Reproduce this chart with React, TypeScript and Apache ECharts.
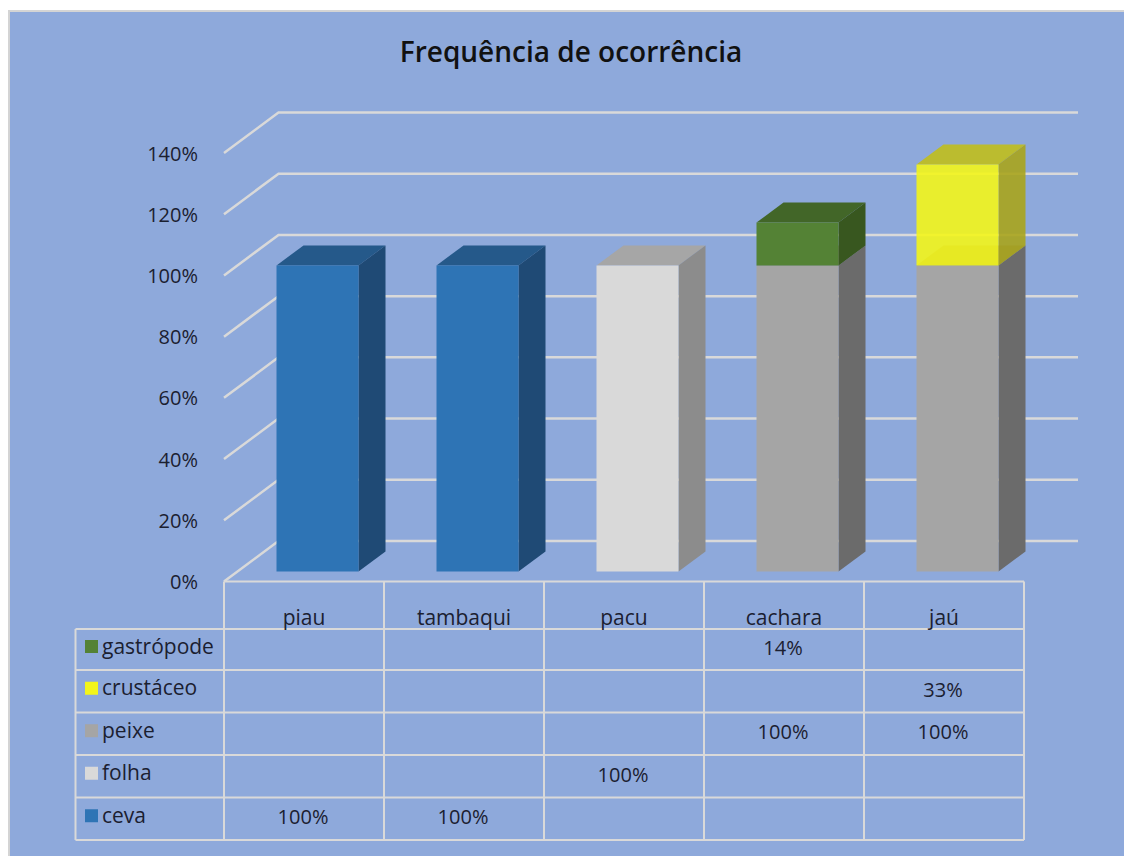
import React, { useEffect, useRef } from "react";
import * as echarts from "echarts";

const titleText = "Frequência de ocorrência";
const categories = ["piau", "tambaqui", "pacu", "cachara", "jaú"];
const ceva = [100, 100, null, null, null];
const folha = [null, null, 100, null, null];
const peixe = [null, null, null, 100, 100];
const crustaceo = [null, null, null, null, 33];
const gastropode = [null, null, null, 14, null];
const yTicks = [0, 20, 40, 60, 80, 100, 120, 140];

const stackOrder = [
  { name: "ceva", values: ceva, front: "#2E74B5", side: "#1F4A75", top: "#25598A", opacity: 1 },
  { name: "folha", values: folha, front: "#D9D9D9", side: "#8C8C8C", top: "#A6A6A6", opacity: 1 },
  { name: "peixe", values: peixe, front: "#A5A5A5", side: "#6B6B6B", top: "#7E7E7E", opacity: 1 },
  { name: "crustáceo", values: crustaceo, front: "#F3F51A", side: "#A8A41C", top: "#C0BE1C", opacity: 0.9 },
  { name: "gastrópode", values: gastropode, front: "#548235", side: "#38571F", top: "#426628", opacity: 1 },
];
const tableRows = [...stackOrder].reverse();

const FONT = "'Open Sans', sans-serif";
const TEXT = "#1B2030";
const LINE = "#D9D9D9";
const GRID = { left: 224, top: 153, width: 800, height: 428.5 };
const ROW_Y = [629, 670, 712.5, 755, 797.5, 840];
const TABLE_LEFT = 75.5;
const COL_W = GRID.width / categories.length;
const BAR_HALF = 41;
const BAR_DX = 13.5;
const BAR_DY = -10;
const DEPTH_X = 27;
const DEPTH_Y = -20;

const bottoms = categories.map(() => 0);
const seriesData = stackOrder.map((s) =>
  s.values.flatMap((v, i) => {
    if (v == null) return [];
    const item = [i, bottoms[i], bottoms[i] + v];
    bottoms[i] += v;
    return [item];
  })
);

const pct = (v: number) => `${v}%`;

function barSeries(s: (typeof stackOrder)[number], data: number[][], z: number) {
  return {
    type: "custom",
    name: s.name,
    coordinateSystem: "cartesian2d",
    clip: false,
    silent: true,
    z,
    data,
    renderItem: (_p: any, api: any) => {
      const p0 = api.coord([api.value(0), api.value(1)]);
      const p1 = api.coord([api.value(0), api.value(2)]);
      const xl = p0[0] + BAR_DX - BAR_HALF;
      const xr = p0[0] + BAR_DX + BAR_HALF;
      const yb = p0[1] + BAR_DY;
      const yt = p1[1] + BAR_DY;
      const o = s.opacity;
      return {
        type: "group",
        children: [
          {
            type: "polygon",
            shape: { points: [[xl, yt], [xr, yt], [xr + DEPTH_X, yt + DEPTH_Y], [xl + DEPTH_X, yt + DEPTH_Y]] },
            style: { fill: s.top, opacity: o },
          },
          {
            type: "polygon",
            shape: { points: [[xr, yt], [xr + DEPTH_X, yt + DEPTH_Y], [xr + DEPTH_X, yb + DEPTH_Y], [xr, yb]] },
            style: { fill: s.side, opacity: o },
          },
          {
            type: "rect",
            shape: { x: xl, y: yt, width: xr - xl, height: yb - yt },
            style: { fill: s.front, opacity: o },
          },
        ],
      };
    },
  };
}

function tableGraphics() {
  const els: any[] = [];
  const right = GRID.left + GRID.width;
  const top = GRID.top + GRID.height;
  const line = (x1: number, y1: number, x2: number, y2: number) =>
    els.push({ type: "line", shape: { x1, y1, x2, y2 }, style: { stroke: LINE, lineWidth: 2 }, silent: true });
  line(GRID.left, top, right, top);
  ROW_Y.forEach((y) => line(TABLE_LEFT, y, right, y));
  line(TABLE_LEFT, ROW_Y[0], TABLE_LEFT, ROW_Y[5]);
  categories.forEach((_, i) => line(GRID.left + i * COL_W, top, GRID.left + i * COL_W, ROW_Y[5]));
  line(right, top, right, ROW_Y[5]);
  tableRows.forEach((row, r) => {
    const cy = (ROW_Y[r] + ROW_Y[r + 1]) / 2;
    els.push({
      type: "rect",
      shape: { x: 85, y: cy - 9.5, width: 13, height: 13 },
      style: { fill: row.front },
      silent: true,
    });
    els.push({
      type: "text",
      x: 102,
      y: cy - 4,
      style: { text: row.name, font: `21px ${FONT}`, fill: TEXT, textVerticalAlign: "middle" },
      silent: true,
    });
    row.values.forEach((v, c) => {
      if (v == null) return;
      els.push({
        type: "text",
        x: GRID.left + (c + 0.5) * COL_W - 1,
        y: cy - 2,
        style: { text: pct(v), font: `20px ${FONT}`, fill: TEXT, textAlign: "center", textVerticalAlign: "middle" },
        silent: true,
      });
    });
  });
  return els;
}

export default function App() {
  const ref = useRef<HTMLDivElement>(null);
  useEffect(() => {
    const chart = echarts.init(ref.current!, undefined, { renderer: "svg" });
    chart.setOption({
      animation: false,
      backgroundColor: "#FFFFFF",
      title: {
        text: titleText,
        left: 566,
        top: 32,
        textAlign: "center",
        textStyle: { fontFamily: FONT, fontSize: 28, fontWeight: 600, color: "#111111" },
      },
      grid: { ...GRID },
      xAxis: {
        type: "category",
        data: categories,
        axisLine: { show: false },
        axisTick: { show: false },
        axisLabel: { margin: 25, fontFamily: FONT, fontSize: 21, color: TEXT },
      },
      yAxis: {
        type: "value",
        min: 0,
        max: 140,
        interval: 20,
        splitLine: { show: false },
        axisLine: { show: false },
        axisTick: { show: false },
        axisLabel: { margin: 26, fontFamily: FONT, fontSize: 20, color: TEXT, formatter: (v: number) => pct(v) },
      },
      graphic: [
        {
          type: "rect",
          z: -10,
          silent: true,
          shape: { x: 9, y: 11, width: 1130, height: 860 },
          style: { fill: "#8EA9DB", stroke: "#D4D4D4", lineWidth: 2 },
        },
        ...tableGraphics(),
      ],
      series: [
        {
          type: "custom",
          name: "grid",
          coordinateSystem: "cartesian2d",
          clip: false,
          silent: true,
          z: 1,
          data: yTicks.map((t) => [0, t]),
          renderItem: (_p: any, api: any) => {
            const p = api.coord([0, api.value(1)]);
            const x0 = GRID.left;
            const y = p[1];
            return {
              type: "polyline",
              shape: { points: [[x0, y], [x0 + 54.5, y - 40.5], [x0 + 854, y - 40.5]] },
              style: { stroke: LINE, lineWidth: 2.5, fill: "none" },
            };
          },
        },
        ...stackOrder.map((s, i) => barSeries(s, seriesData[i], 2 + i)),
      ],
    });
    return () => chart.dispose();
  }, []);
  return <div ref={ref} style={{ position: "fixed", left: 0, top: 0, width: 1124, height: 856 }} />;
}
